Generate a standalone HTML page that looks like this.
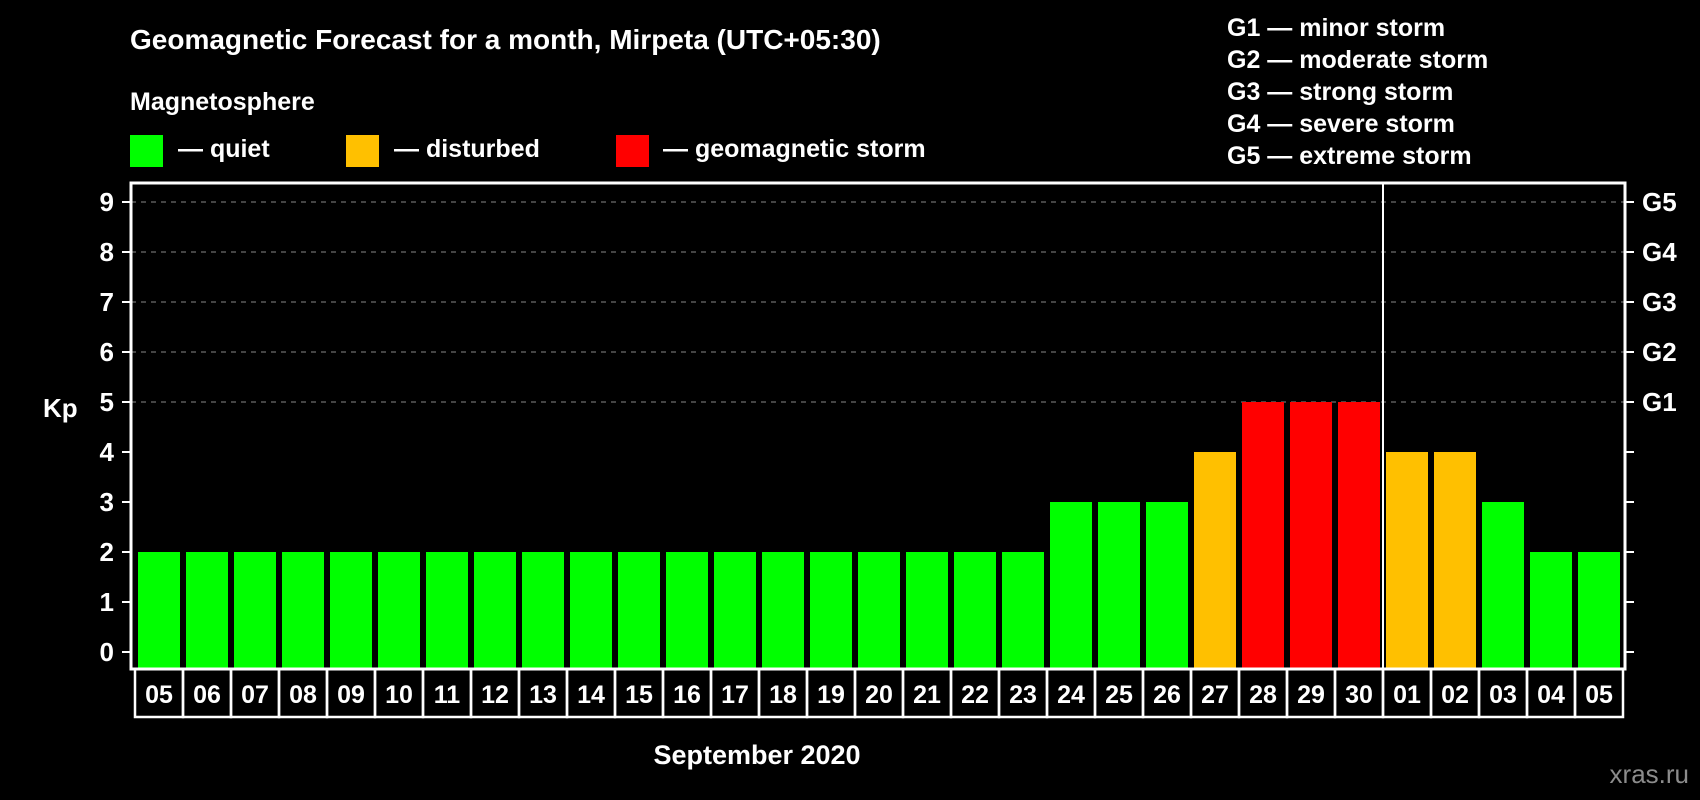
<!DOCTYPE html>
<html><head><meta charset="utf-8"><style>
html,body{margin:0;padding:0;background:#000;}
svg{display:block;font-family:"Liberation Sans",Arial,sans-serif;font-weight:bold;}
</style></head><body>
<svg id="chart" width="1700" height="800" viewBox="0 0 1700 800">
<rect x="0" y="0" width="1700" height="800" fill="#000"/>
<text x="130" y="49" fill="#fff" font-size="28">Geomagnetic Forecast for a month, Mirpeta (UTC+05:30)</text>
<text x="130" y="110" fill="#fff" font-size="25">Magnetosphere</text>
<g><rect x="130" y="135" width="33" height="32" fill="#00ff00"/><text x="178" y="157" fill="#fff" font-size="25">— quiet</text></g>
<g><rect x="346" y="135" width="33" height="32" fill="#ffc000"/><text x="394" y="157" fill="#fff" font-size="25">— disturbed</text></g>
<g><rect x="616" y="135" width="33" height="32" fill="#ff0000"/><text x="663" y="157" fill="#fff" font-size="25">— geomagnetic storm</text></g>
<g fill="#fff" font-size="25">
<text x="1227" y="36">G1 — minor storm</text>
<text x="1227" y="68">G2 — moderate storm</text>
<text x="1227" y="100">G3 — strong storm</text>
<text x="1227" y="132">G4 — severe storm</text>
<text x="1227" y="164">G5 — extreme storm</text>
</g>
<g id="grid"></g>
<g id="bars"></g>
<g id="axes"></g>
<text x="43" y="417" fill="#fff" font-size="26">Kp</text>
<text x="757" y="764" fill="#fff" font-size="27" text-anchor="middle">September 2020</text>
<text x="1689" y="783" fill="#8c8c8c" font-size="26" text-anchor="end" font-weight="normal">xras.ru</text>
</svg>
<script>
const days = ["05","06","07","08","09","10","11","12","13","14","15","16","17","18","19","20","21","22","23","24","25","26","27","28","29","30","01","02","03","04","05"];
const kpValues = [2,2,2,2,2,2,2,2,2,2,2,2,2,2,2,2,2,2,2,3,3,3,4,5,5,5,4,4,3,2,2];
const yTicks = [0,1,2,3,4,5,6,7,8,9];
const gLabels = ["G1","G2","G3","G4","G5"];
const monthBoundaryIndex = 26;

const NS = "http://www.w3.org/2000/svg";
const L = 131, R = 1625, T = 183, B = 669;
const y = v => 652 - 50 * v;
const x = i => 138 + 48 * i;
const BW = 42;
function mk(tag, attrs, parent){const e=document.createElementNS(NS,tag);for(const k in attrs)e.setAttribute(k,attrs[k]);parent.appendChild(e);return e;}
const grid=document.getElementById('grid'), bars=document.getElementById('bars'), axes=document.getElementById('axes');

yTicks.forEach(v=>{
  if(v>=5){
    const g=mk('line',{x1:L,x2:R,y1:y(v),y2:y(v),stroke:'#888','stroke-width':1,'stroke-dasharray':'5,5'},grid);
    
    
  }
  const t=mk('line',{x1:L-9,x2:L,y1:y(v),y2:y(v),stroke:'#fff','stroke-width':2},axes);
  
  
  const t2=mk('line',{x1:R,x2:R+9,y1:y(v),y2:y(v),stroke:'#fff','stroke-width':2},axes);
  
  
  const lb=mk('text',{x:L-17,y:y(v)+9,fill:'#fff','font-size':26,'text-anchor':'end'},axes);
  lb.textContent=v;
  
  
});
gLabels.forEach((g,i)=>{
  const lb=mk('text',{x:1642,y:y(5+i)+9,fill:'#fff','font-size':26},axes);
  lb.textContent=g;
  
  
});
const col = v => v>=5 ? '#ff0000' : (v===4 ? '#ffc000' : '#00ff00');
kpValues.forEach((v,i)=>{
  const r=mk('rect',{x:x(i),y:y(v),width:BW,height:B-y(v),fill:col(v)},bars);
  
  
  const c=mk('rect',{x:135+48*i,y:B,width:48,height:48,fill:'none',stroke:'#fff','stroke-width':2.5},axes);
  
  
  const t=mk('text',{x:135+48*i+24,y:703,fill:'#fff','font-size':25,'text-anchor':'middle'},axes);
  t.textContent=days[i];
  
  
});
const fr=mk('path',{d:`M${L},${T} H${R} V${B} H${L} Z`,fill:'none',stroke:'#fff','stroke-width':3},axes);


const bx=x(monthBoundaryIndex)-3;
const ml=mk('line',{x1:bx,x2:bx,y1:T,y2:B,stroke:'#fff','stroke-width':2},axes);


</script>
</body></html>
